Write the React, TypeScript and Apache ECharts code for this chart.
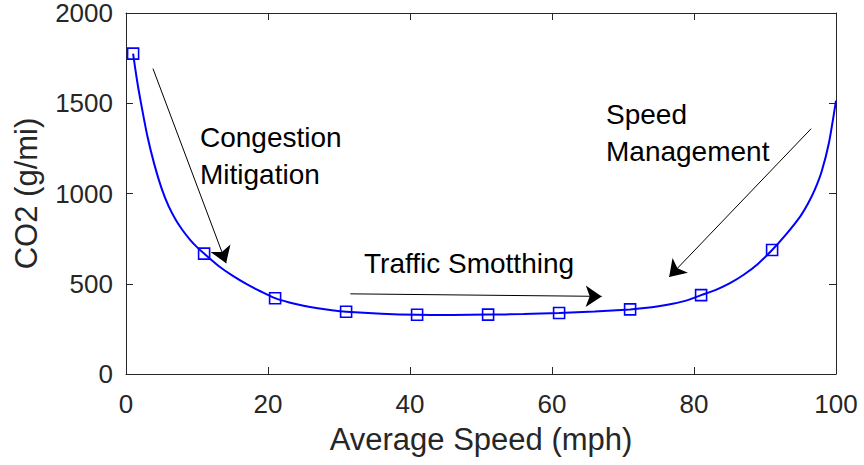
import React, { useEffect, useRef } from "react";
import * as echarts from "echarts";

// Fitted curve (speed mph, CO2 g/mi)
const curveSpeed = [1, 1.5, 2, 3, 4, 5, 6, 7, 8, 9, 10, 11, 13, 15, 17, 19, 21, 23, 25, 27, 29, 31, 36, 41, 46, 51, 56, 61, 66, 71, 73, 75, 77, 79, 81, 83, 85, 87, 89, 91, 93, 95, 96, 97, 98, 99, 100];
const curveCO2 = [1775, 1640, 1525, 1320, 1160, 1030, 930, 855, 795, 745, 703, 667, 600, 545, 498, 457, 420, 396, 378, 364, 353, 345, 334, 328, 327, 329, 332, 338, 346, 358, 365, 375, 389, 408, 437, 465, 502, 550, 610, 687, 775, 875, 940, 1020, 1125, 1280, 1515];

// Measured points (square markers)
const markerSpeed = [1, 11, 21, 31, 41, 51, 61, 71, 81, 91];
const markerCO2 = [1775, 667, 420, 345, 328, 329, 338, 358, 437, 687];

// Annotation arrows: [startSpeed, startCO2, endSpeed, endCO2]
const arrowCongestion = [3.8, 1692, 14.1, 614];
const arrowTraffic = [31.6, 444, 67.0, 430];
const arrowSpeedMgmt = [96.5, 1359, 76.5, 538];

const xTicks = [0, 20, 40, 60, 80, 100];
const yTicks = [0, 500, 1000, 1500, 2000];

const FONT = "'Liberation Sans', Arial, Helvetica, sans-serif";
const AX = "#262626";

export default function App() {
  const ref = useRef<HTMLDivElement>(null);
  useEffect(() => {
    if (!ref.current) return;
    const chart = echarts.init(ref.current, undefined, { renderer: "svg" });
    const xMin = xTicks[0], xMax = xTicks[xTicks.length - 1];
    const yMin = yTicks[0], yMax = yTicks[yTicks.length - 1];
    const commonX = {
      type: "value" as const,
      min: xMin,
      max: xMax,
      interval: xTicks[1] - xTicks[0],
      splitLine: { show: false },
      axisLine: { show: true, onZero: false, lineStyle: { color: AX, width: 1 } },
      axisTick: { show: true, inside: true, length: 7, lineStyle: { color: AX, width: 1 } },
    };
    const commonY = {
      type: "value" as const,
      min: yMin,
      max: yMax,
      interval: yTicks[1] - yTicks[0],
      splitLine: { show: false },
      axisLine: { show: true, onZero: false, lineStyle: { color: AX, width: 1 } },
      axisTick: { show: true, inside: true, length: 7, lineStyle: { color: AX, width: 1 } },
    };
    const arrows = [arrowCongestion, arrowTraffic, arrowSpeedMgmt].map((a) => ({
      coords: [
        [a[0], a[1]],
        [a[2], a[3]],
      ],
    }));
    const plain = (v: number) => String(v);
    chart.setOption({
      animation: false,
      backgroundColor: "#ffffff",
      grid: { left: 126, right: 28, top: 10, bottom: 91, containLabel: false },
      xAxis: [
        {
          ...commonX,
          position: "bottom",
          name: "Average Speed (mph)",
          nameLocation: "middle",
          nameGap: 50,
          nameTextStyle: { fontFamily: FONT, fontSize: 31, color: AX },
          axisLabel: { show: true, margin: 17, fontFamily: FONT, fontSize: 26, color: AX, formatter: plain },
        },
        { ...commonX, position: "top", axisLabel: { show: false } },
      ],
      yAxis: [
        {
          ...commonY,
          position: "left",
          name: "CO2 (g/mi)",
          nameLocation: "middle",
          nameRotate: 90,
          nameGap: 84,
          nameTextStyle: { fontFamily: FONT, fontSize: 31, color: AX },
          axisLabel: { show: true, margin: 13, fontFamily: FONT, fontSize: 26, color: AX, formatter: plain },
        },
        { ...commonY, position: "right", axisLabel: { show: false } },
      ],
      series: [
        {
          type: "line",
          xAxisIndex: 0,
          yAxisIndex: 0,
          data: curveSpeed.map((x, i) => [x, curveCO2[i]]),
          smooth: 0.25,
          showSymbol: false,
          symbol: "none",
          lineStyle: { color: "#0000ff", width: 2 },
          z: 2,
        },
        {
          type: "line",
          xAxisIndex: 0,
          yAxisIndex: 0,
          data: markerSpeed.map((x, i) => [x, markerCO2[i]]),
          lineStyle: { width: 0, opacity: 0 },
          symbol: "rect",
          symbolSize: 11,
          showSymbol: true,
          itemStyle: { color: "none", borderColor: "#0000ff", borderWidth: 1.6 },
          z: 3,
        },
        {
          type: "lines",
          coordinateSystem: "cartesian2d",
          xAxisIndex: 0,
          yAxisIndex: 0,
          data: arrows,
          symbol: ["none", "arrow"],
          symbolSize: 16,
          lineStyle: { color: "#000000", width: 1, opacity: 1, curveness: 0 },
          itemStyle: { color: "#000000" },
          z: 4,
        },
      ],
      graphic: [
        { type: "text", left: 200, top: 123, style: { text: "Congestion", font: `28px ${FONT}`, fill: "#000" } },
        { type: "text", left: 200, top: 160, style: { text: "Mitigation", font: `28px ${FONT}`, fill: "#000" } },
        { type: "text", left: 606, top: 100, style: { text: "Speed", font: `28px ${FONT}`, fill: "#000" } },
        { type: "text", left: 606, top: 137, style: { text: "Management", font: `28px ${FONT}`, fill: "#000" } },
        { type: "text", left: 364, top: 249, style: { text: "Traffic Smotthing", font: `28px ${FONT}`, fill: "#000" } },
      ],
    });
    return () => chart.dispose();
  }, []);
  return (
    <div
      ref={ref}
      style={{ position: "fixed", left: 0, top: 0, width: 864, height: 465, background: "#fff" }}
    />
  );
}
